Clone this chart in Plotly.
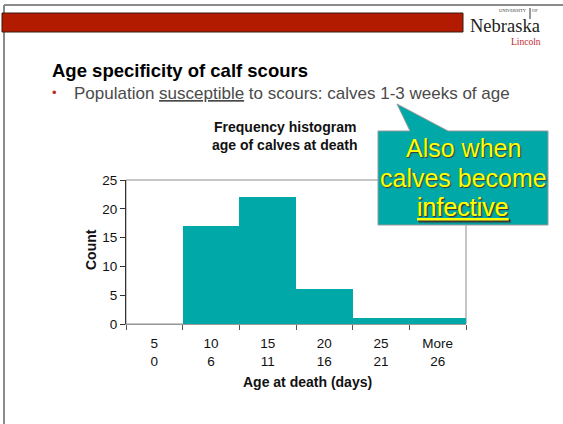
import plotly.graph_objects as go

# ---- data ----
bin_upper = ["5", "10", "15", "20", "25", "More"]
bin_lower = ["0", "6", "11", "16", "21", "26"]
counts = [0, 17, 22, 6, 1, 1]

categories = [f"{u}<br>{l}" for u, l in zip(bin_upper, bin_lower)]

W, H = 563, 424
L, R, T, B = 126, 466, 180, 324


def px(x):
    return (x - L) / (R - L)


def py(y):
    return (B - y) / (B - T)


TEAL = "#00A8A8"
FONT = "Liberation Sans, Arial, sans-serif"
SERIF = "Liberation Serif, Times New Roman, serif"

fig = go.Figure()
fig.add_trace(go.Bar(
    x=categories, y=counts,
    marker=dict(color=TEAL, line=dict(width=0)),
    hoverinfo="skip",
))

shapes = []
# slide border lines
shapes.append(dict(type="line", xref="paper", yref="paper",
                   x0=px(4), x1=px(563), y0=py(5), y1=py(5),
                   line=dict(color="#8a8a8a", width=2)))
shapes.append(dict(type="line", xref="paper", yref="paper",
                   x0=px(4), x1=px(4), y0=py(5), y1=py(424),
                   line=dict(color="#8a8a8a", width=2)))
# red banner
shapes.append(dict(type="rect", xref="paper", yref="paper",
                   x0=px(2), x1=px(463), y0=py(32), y1=py(13),
                   fillcolor="#B31B00", line=dict(color="#3a1a10", width=1)))
# logo separator bar
shapes.append(dict(type="line", xref="paper", yref="paper",
                   x0=px(530), x1=px(530), y0=py(19), y1=py(8),
                   line=dict(color="#333", width=1)))
# plot frame
shapes.append(dict(type="rect", xref="paper", yref="paper",
                   x0=0, x1=1, y0=0, y1=1, layer="below",
                   line=dict(color="#8c8c8c", width=1)))
# callout with pointer
pts = [(378, 131), (410, 131), (397, 104), (448, 131), (548, 131), (548, 225), (378, 225)]
path = "M " + " L ".join(f"{px(a):.5f},{py(b):.5f}" for a, b in pts) + " Z"
shapes.append(dict(type="path", xref="paper", yref="paper", path=path,
                   fillcolor=TEAL, line=dict(color="#9a9a9a", width=1), layer="above"))

annotations = []


def ann(text, x, y, size, color="#000", xanchor="center", bold=False, family=FONT, **kw):
    if bold:
        text = f"<b>{text}</b>"
    d = dict(text=text, xref="paper", yref="paper", x=px(x), y=py(y),
             xanchor=xanchor, yanchor="middle", showarrow=False,
             font=dict(size=size, color=color, family=family))
    d.update(kw)
    annotations.append(d)


# slide texts
ann("Age specificity of calf scours", 50, 70, 18.5, "#000", xanchor="left", bold=True)
ann("•", 50, 93, 13, "#C0281E", xanchor="left")
ann("Population <u>susceptible</u> to scours: calves 1-3 weeks of age", 72, 94, 17,
    "#4a4a4a", xanchor="left")

# logo
ann("Nebraska", 504.5, 25.5, 18.5, "#222", family=SERIF)
ann("UNIVERSITY", 513, 10.5, 4.5, "#333", family=SERIF)
ann("OF", 535, 10.5, 4.5, "#333", family=SERIF)
ann("Lincoln", 526, 42, 9.5, "#C0282D", family=SERIF)

# chart title
ann("Frequency histogram", 285, 127, 14, "#111", bold=True)
ann("age of calves at death", 285, 145, 14, "#111", bold=True)

# axis titles
ann("Age at death (days)", 307, 382, 14, "#111", bold=True)
ann("Count", 91, 250, 14, "#111", bold=True, textangle=-90)

# callout text
shadow = "1px 1px 1px #3a3a3a"
for txt, yy in [("Also when", 148), ("calves become", 178), ("<u>infective</u>", 207)]:
    annotations.append(dict(text=txt, xref="paper", yref="paper", x=px(463), y=py(yy),
                            xanchor="center", yanchor="middle", showarrow=False,
                            font=dict(size=25, color="#FFFF00", family=FONT, shadow=shadow)))

fig.update_layout(
    width=W, height=H,
    margin=dict(l=L, r=W - R, t=T, b=H - B, pad=0),
    paper_bgcolor="white", plot_bgcolor="white",
    bargap=0, showlegend=False,
    shapes=shapes, annotations=annotations,
    font=dict(family=FONT, size=13.5, color="#111"),
    xaxis=dict(type="category", tickson="boundaries", ticks="outside", ticklen=5,
               tickcolor="#555", showline=True, linecolor="#999", linewidth=1,
               showgrid=False, zeroline=False, range=[-0.5, 5.5],
               ticklabelstandoff=7,
               tickfont=dict(size=13.5, color="#111", family=FONT), fixedrange=True),
    yaxis=dict(range=[0, 25], dtick=5, ticks="outside", ticklen=5, tickcolor="#333",
               showline=True, linecolor="#333", linewidth=1, showgrid=False,
               zeroline=False, tickfont=dict(size=13.5, color="#111", family=FONT),
               fixedrange=True),
)

fig.write_html(
    "out.html",
    config={"displayModeBar": False, "staticPlot": True},
    post_script="document.body.style.margin='0';document.body.style.overflow='hidden';",
)
